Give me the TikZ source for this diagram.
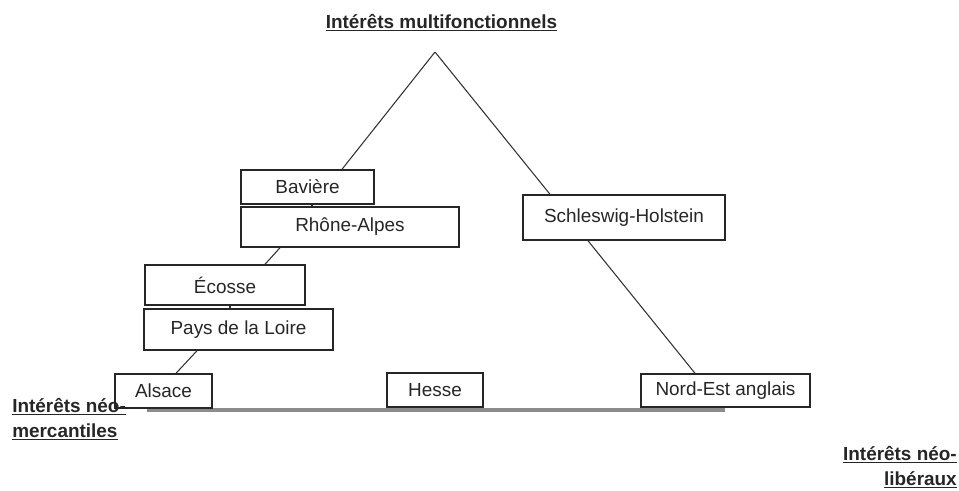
\documentclass[tikz,border=0pt]{standalone}
\usepackage{fontspec}
\setmainfont{Liberation Sans}
\usetikzlibrary{calc}
\begin{document}
\begin{tikzpicture}[x=0.75pt,y=-0.75pt,
  box/.style={draw=black!85, fill=white, line width=1.1pt, inner sep=0pt, font=\fontsize{14.2}{17}\selectfont, text=black!85},
  lbl/.style={font=\bfseries\fontsize{14.2}{18.75}\selectfont, inner sep=0pt, text=black!85},
  conn/.style={draw=black!80, line width=0.8pt},
  base/.style={draw=black!45, line width=2.4pt}]
\useasboundingbox (0,0) rectangle (959,490);
\coordinate (bl) at (147,410);
\coordinate (br) at (725,410);
\draw[base] (bl) -- (br);
\node[box, minimum width=99.75pt, minimum height=25.5pt] (bav) at (307.5,187) {Bavière};
\node[box, minimum width=163.5pt, minimum height=30pt] (rhone) at (350,227) {Rhône-Alpes};
\node[box, minimum width=120pt, minimum height=30pt] (ecosse) at (225,285) {Écosse};
\node[box, minimum width=141.75pt, minimum height=30.75pt] (pays) at (238.5,329.5) {Pays de la Loire};
\node[box, minimum width=72.75pt, minimum height=25.5pt] (alsace) at (163.5,391) {Alsace};
\node[box, minimum width=72pt, minimum height=25.5pt] (hesse) at (435,390) {Hesse};
\node[box, minimum width=126.75pt, minimum height=24.75pt] (nordest) at (725.5,390.5) {Nord-Est anglais};
\node[box, minimum width=151.5pt, minimum height=33.75pt] (schleswig) at (624,217.5) {Schleswig-Holstein};
\coordinate (apex) at (435,52);
\draw[conn] (apex) -- ($(bav.north)+(34.5,0)$);
\draw[conn] ($(bav.south)+(4.5,0)$) -- ($(rhone.north)+(-38,0)$);
\draw[conn] ($(rhone.south)+(-70,0)$) -- ($(ecosse.north)+(40,0)$);
\draw[conn] ($(ecosse.south)+(5,0)$) -- ($(pays.north)+(-8.5,0)$);
\draw[conn] ($(pays.south)+(-41.5,0)$) -- ($(alsace.north)+(12.5,0)$);
\draw[conn] (apex) -- ($(schleswig.north)+(-74,0)$);
\draw[conn] ($(schleswig.south)+(-36,0)$) -- ($(nordest.north)+(-30.5,0)$);
\node[lbl, anchor=north] (top) at (441.5,14) {\underline{Intérêts multifonctionnels}};
\node[lbl, anchor=north west, align=left] (left) at (12,398) {\underline{Intérêts néo-}\\\underline{mercantiles}};
\node[lbl, anchor=north east, align=right] (right) at (957,446) {\underline{Intérêts néo-}\\\underline{libéraux}};
\end{tikzpicture}
\end{document}
